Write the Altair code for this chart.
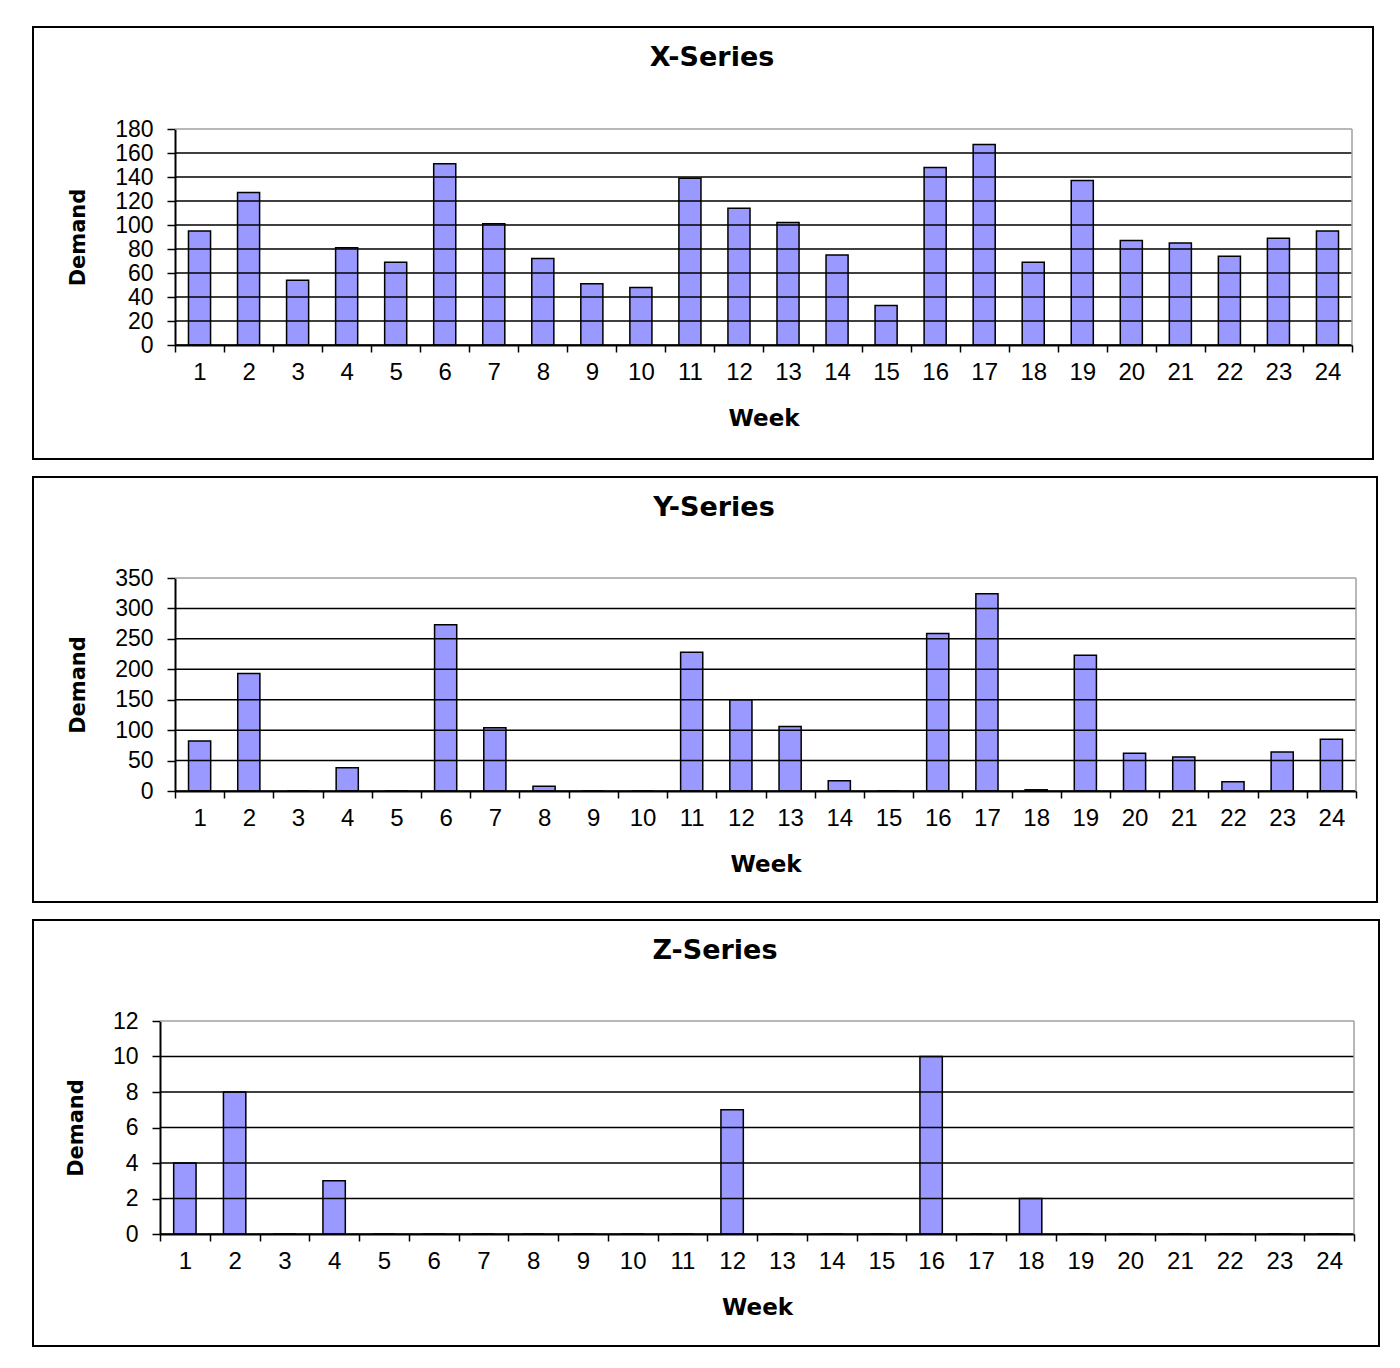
import altair as alt
import pandas as pd

# ---- data ----
WEEKS = list(range(1, 25))
X_SERIES = [95, 127, 54, 81, 69, 151, 101, 72, 51, 48, 139, 114,
            102, 75, 33, 148, 167, 69, 137, 87, 85, 74, 89, 95]
Y_SERIES = [82, 193, 0, 38, 0, 273, 104, 8, 0, 0, 228, 150,
            106, 17, 0, 259, 324, 2, 223, 62, 56, 15, 64, 85]
Z_SERIES = [4, 8, 0, 3, 0, 0, 0, 0, 0, 0, 0, 7,
            0, 0, 0, 10, 0, 2, 0, 0, 0, 0, 0, 0]
TITLES = ["X-Series", "Y-Series", "Z-Series"]
Y_MAX = [180, 350, 12]
Y_STEP = [20, 50, 2]
X_TITLE = "Week"
Y_TITLE = "Demand"

LABEL_FONT = "Liberation Sans"
TITLE_FONT = "DejaVu Sans"
BAR_FILL = "#9999ff"

# layout: view size, left shift of the plot inside the view, outer frame, title position
LAYOUT = [
    dict(w=1177, h=216, shift=0, frame=(-142, 1198, -102, 330), tpos=(537, -63)),
    dict(w=1181, h=213, shift=0, frame=(-142, 1202, -101, 324), tpos=(539, -62)),
    dict(w=1179, h=213, shift=-15, frame=(-142, 1204, -101, 325), tpos=(540, -62)),
]


def panel(values, title, ymax, ystep, lay):
    df = pd.DataFrame({"Week": WEEKS, "Demand": values})
    yvals = list(range(0, ymax + 1, ystep))
    w, h, s = lay["w"], lay["h"], lay["shift"]
    yscale = alt.Scale(domain=[0, ymax], nice=False)

    def y_axis():
        return alt.Axis(
            title=Y_TITLE,
            values=yvals,
            offset=-s,
            labelFont=LABEL_FONT,
            labelFontSize=23,
            labelColor="black",
            labelPadding=14,
            labelOverlap=False,
            labelFlush=False,
            labelBound=False,
            tickSize=8,
            tickColor="black",
            tickWidth=1.5,
            domainColor="black",
            domainWidth=2,
            grid=False,
            titleFont=TITLE_FONT,
            titleFontSize=21,
            titleFontWeight="bold",
            titleColor="black",
            titlePadding=26,
        )

    bars = alt.Chart(df).mark_bar(
        width=alt.RelativeBandSize(0.45),
        color=BAR_FILL,
        stroke="black",
        strokeWidth=1.5,
    ).encode(
        x=alt.X(
            "Week:O",
            scale=alt.Scale(paddingInner=0, paddingOuter=0, range=[s, w]),
            axis=alt.Axis(
                title=X_TITLE,
                labelAngle=0,
                labelFont=LABEL_FONT,
                labelFontSize=24,
                labelColor="black",
                labelPadding=8,
                labelOverlap=False,
                tickBand="extent",
                tickSize=7,
                tickColor="black",
                tickWidth=1.5,
                domainColor="black",
                domainWidth=2,
                grid=False,
                titleFont=TITLE_FONT,
                titleFontSize=23,
                titleFontWeight="bold",
                titleColor="black",
                titlePadding=23,
            ),
        ),
        y=alt.Y("Demand:Q", scale=yscale, axis=y_axis()),
    )

    # horizontal gridlines at the tick values (top one grey like the plot border)
    gdf = pd.DataFrame({"Demand": yvals})
    grid = alt.Chart(gdf).mark_rule(strokeWidth=1.5).encode(
        y=alt.Y("Demand:Q", scale=yscale, axis=y_axis()),
        x=alt.value(s),
        x2=alt.value(w),
        color=alt.condition(f"datum.Demand >= {ymax}", alt.value("#a0a0a0"), alt.value("#000000")),
    )

    one = pd.DataFrame({"k": [0]})
    right_border = alt.Chart(one).mark_rule(color="#a0a0a0", strokeWidth=1.5).encode(
        x=alt.value(w), y=alt.value(0), y2=alt.value(h)
    )

    fx1, fx2, fy1, fy2 = lay["frame"]
    frame = alt.Chart(one).mark_rect(
        fillOpacity=0, stroke="black", strokeWidth=2
    ).encode(
        x=alt.value(fx1), x2=alt.value(fx2), y=alt.value(fy1), y2=alt.value(fy2)
    )

    tx, ty = lay["tpos"]
    ttl = alt.Chart(one).mark_text(
        font=TITLE_FONT, fontSize=27, fontWeight="bold", color="black",
        align="center", baseline="alphabetic"
    ).encode(x=alt.value(tx), y=alt.value(ty), text=alt.value(title))

    return alt.layer(frame, bars, grid, right_border, ttl).properties(width=w, height=h)


charts = [
    panel(v, t, m, st, l)
    for v, t, m, st, l in zip([X_SERIES, Y_SERIES, Z_SERIES], TITLES, Y_MAX, Y_STEP, LAYOUT)
]

chart = alt.vconcat(*charts, spacing=16).properties(
    padding={"left": 24, "top": 18, "right": 5, "bottom": 5},
    background="white",
).configure_view(
    strokeWidth=0
)

chart.save("out.html", embed_options={"renderer": "svg", "actions": False})
